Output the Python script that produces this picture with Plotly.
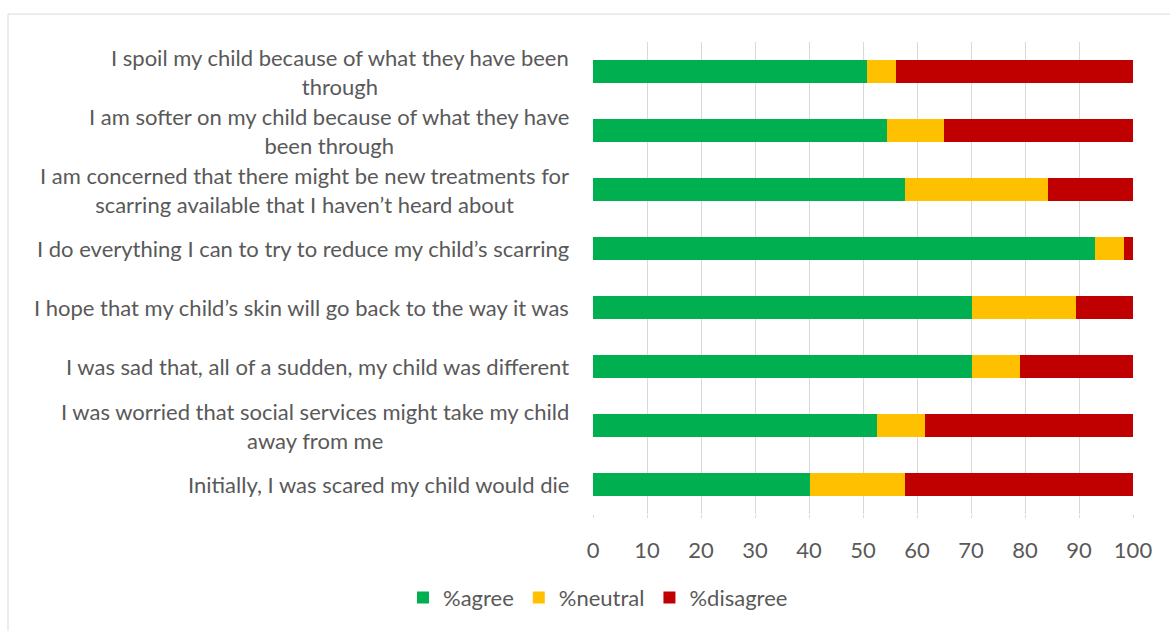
import plotly.graph_objects as go

statements = [
    "I spoil my child because of what they have been<br>through",
    "I am softer on my child because of what they have<br>been through",
    "I am concerned that there might be new treatments for<br>scarring available that I haven’t heard about",
    "I do everything I can to try to reduce my child’s scarring",
    "I hope that my child’s skin will go back to the way it was",
    "I was sad that, all of a sudden, my child was different",
    "I was worried that social services might take my child<br>away from me",
    "Initially, I was scared my child would die",
]
agree = [50.8, 54.4, 57.8, 93.0, 70.2, 70.2, 52.6, 40.2]
neutral = [5.3, 10.6, 26.4, 5.3, 19.3, 8.8, 8.8, 17.6]
disagree = [43.9, 35.0, 15.8, 1.7, 10.5, 21.0, 38.6, 42.2]

series = [
    ("%agree", agree, "#00b050"),
    ("%neutral", neutral, "#ffc000"),
    ("%disagree", disagree, "#c00000"),
]

W, H = 1170, 631
ML, MR, MT, MB = 593, 37, 42, 115
pw, ph = W - ML - MR, H - MT - MB

ids = list(range(len(statements)))

fig = go.Figure()
for name, vals, color in series:
    fig.add_trace(go.Bar(
        y=ids, x=vals, name=name, orientation="h",
        marker=dict(color=color, line=dict(width=0)),
    ))

font_family = "Lato, 'Open Sans', sans-serif"
txt_color = "#595959"
fsize = 22

# category labels: block right-aligned, wrapped lines centred
annotations = []
for i, s in zip(ids, statements):
    annotations.append(dict(
        x=(571 - ML) / pw, xref="paper", y=i, yref="y",
        text=s, showarrow=False, xanchor="right", yanchor="middle",
        align="center", font=dict(family=font_family, size=fsize, color=txt_color),
    ))

fig.update_layout(
    width=W, height=H,
    margin=dict(l=ML, r=MR, t=MT, b=MB),
    barmode="stack", bargap=0.6,
    paper_bgcolor="white", plot_bgcolor="white",
    font=dict(family=font_family, size=fsize, color=txt_color),
    xaxis=dict(
        range=[0, 100], dtick=10, showgrid=True, gridcolor="#d9d9d9",
        gridwidth=1, zeroline=False, showline=False,
        tickfont=dict(size=fsize, color=txt_color), ticks="outside",
        ticklen=3, tickcolor="#d9d9d9", ticklabelstandoff=14, fixedrange=True,
    ),
    yaxis=dict(
        range=[len(ids) - 0.5, -0.5], showticklabels=False, showgrid=False,
        zeroline=False, showline=False, fixedrange=True,
    ),
    legend=dict(
        orientation="h", x=(598 - ML) / pw, xanchor="center",
        y=-(600 - MT - ph) / ph, yanchor="middle",
        font=dict(size=fsize, color=txt_color), traceorder="normal",
        itemwidth=30,
    ),
    annotations=annotations,
    shapes=[dict(
        type="rect", xref="paper", yref="paper",
        x0=(8 - ML) / pw, x1=(W + 20 - ML) / pw,
        y0=-(H + 20 - MT - ph) / ph, y1=(ph + MT - 14) / ph,
        line=dict(color="#d9d9d9", width=1), fillcolor="rgba(0,0,0,0)",
        layer="below",
    )],
)

fig.write_html("out.html")
